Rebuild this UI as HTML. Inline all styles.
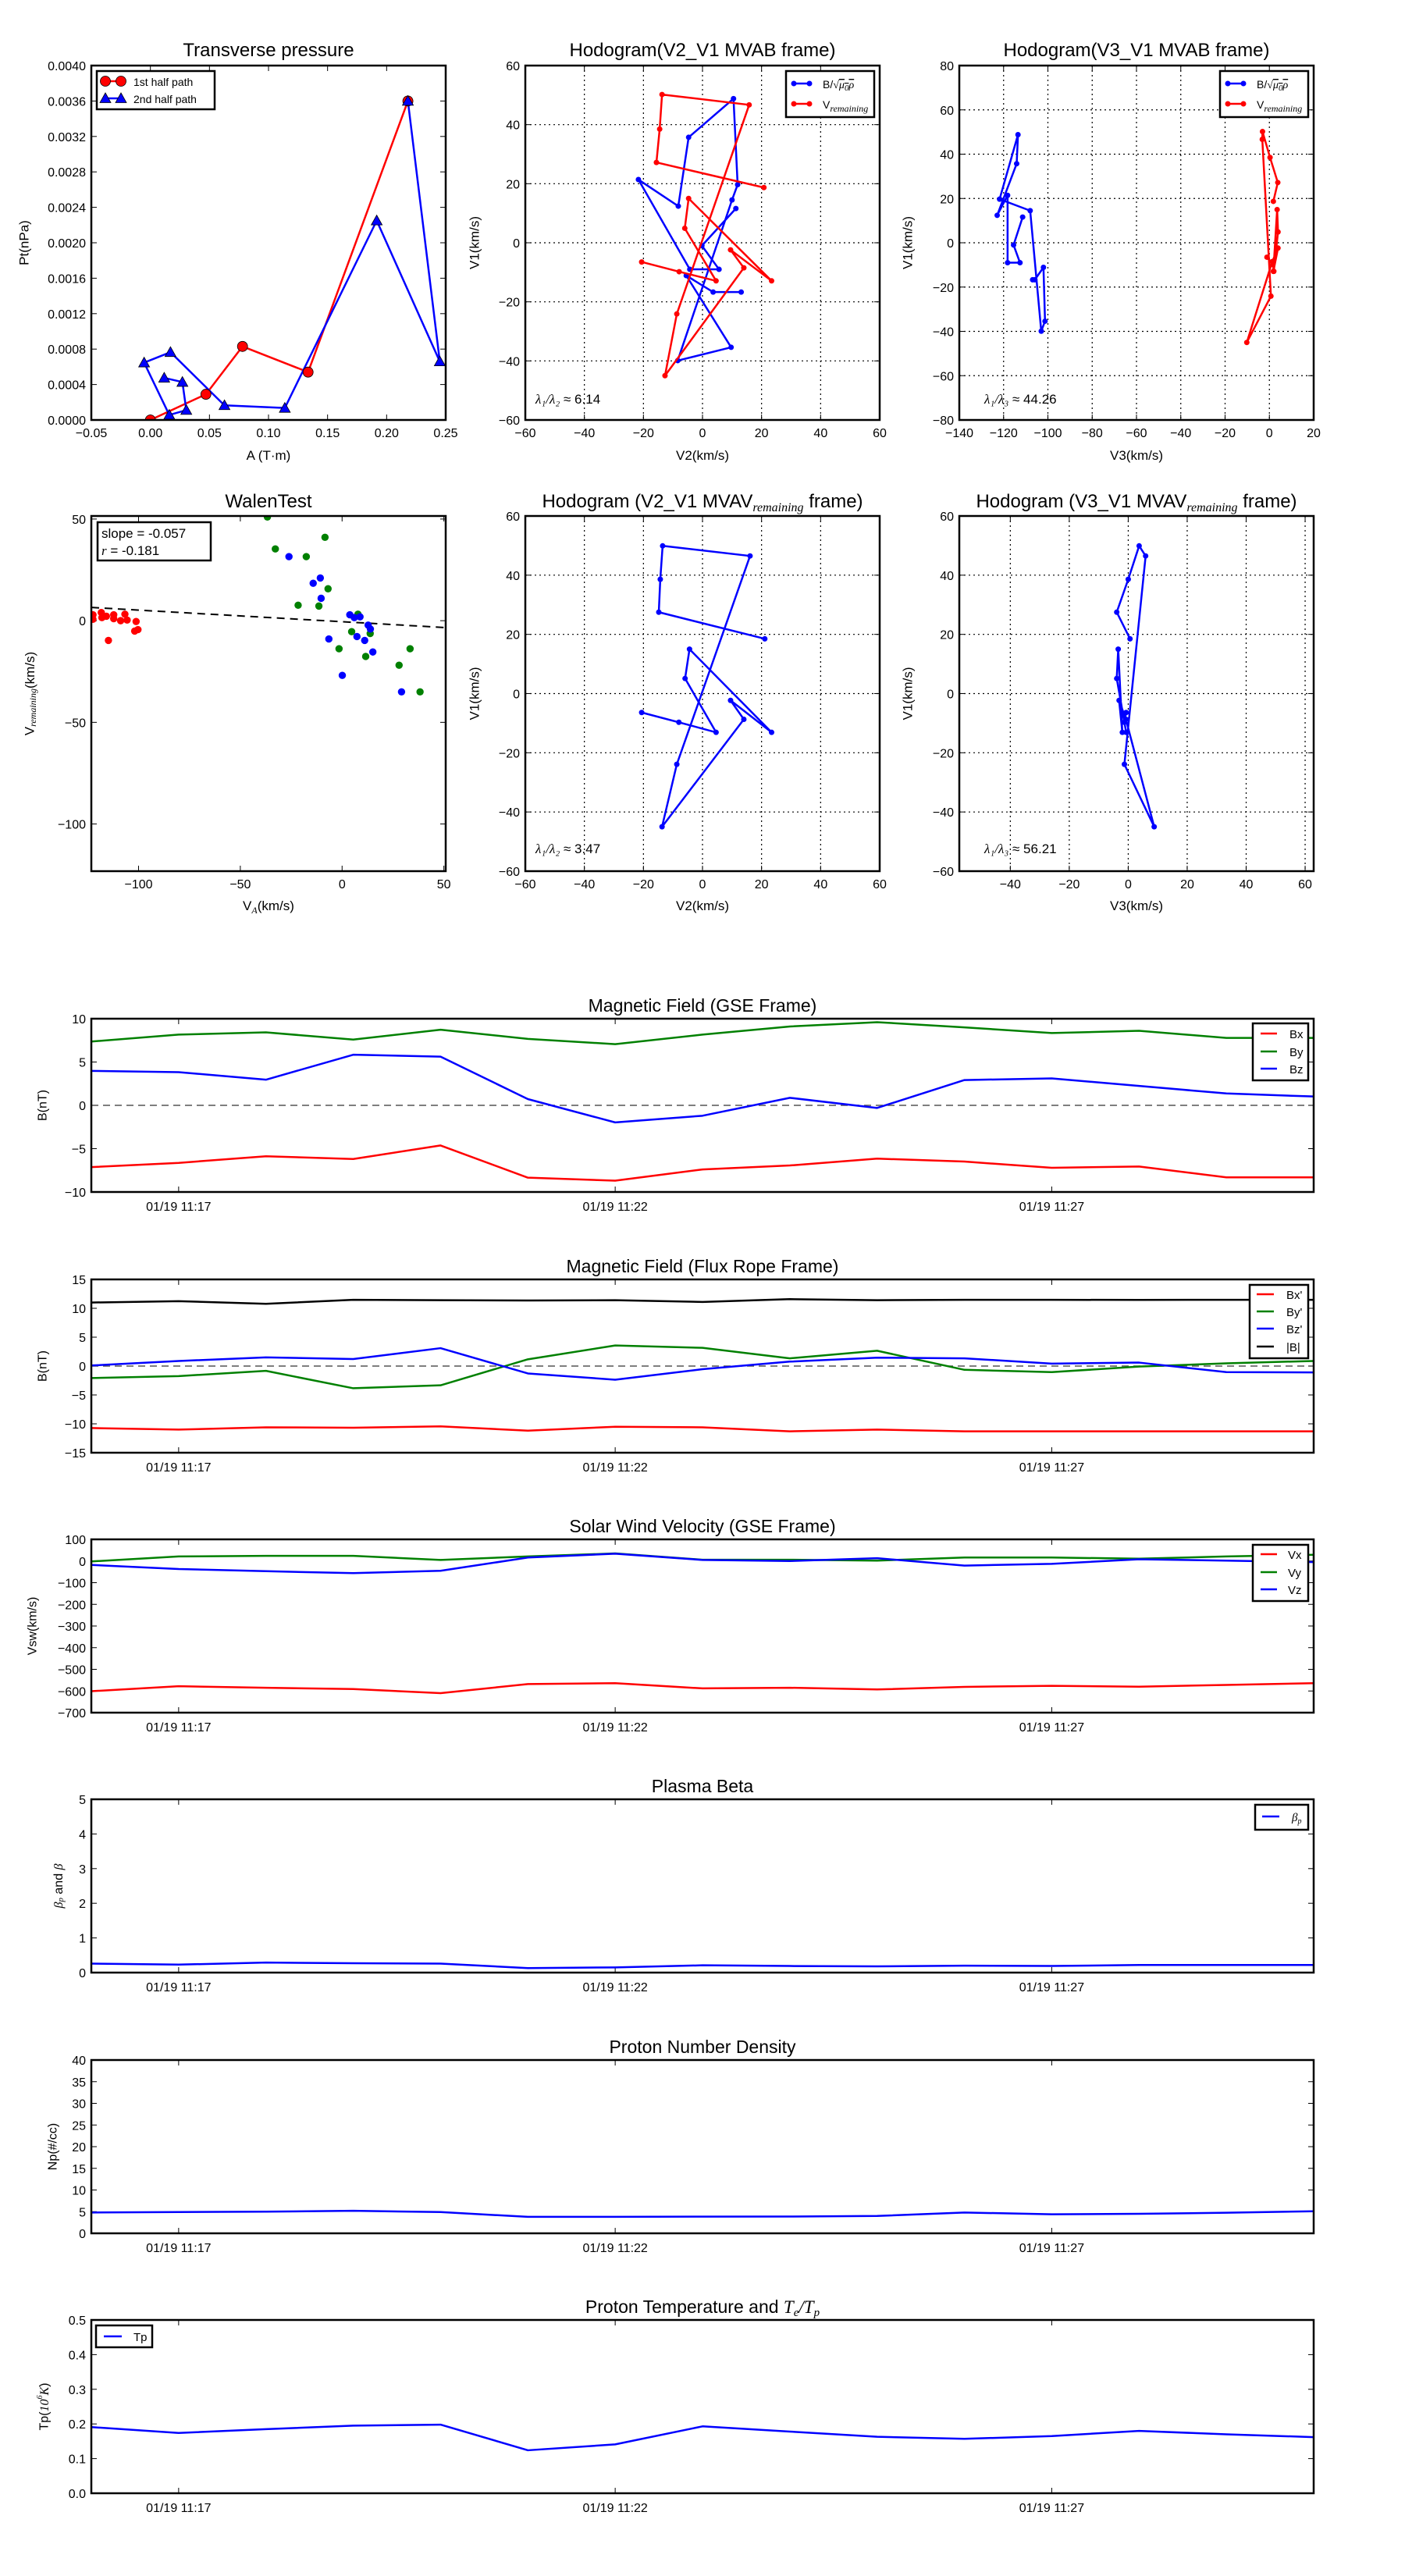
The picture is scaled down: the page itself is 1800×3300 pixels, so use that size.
<!DOCTYPE html>
<html><head><meta charset="utf-8"><style>
html,body{margin:0;padding:0;background:#fff;}
svg{display:block;font-family:"Liberation Sans","DejaVu Sans",sans-serif;}
</style></head><body>
<svg id="fig" width="1800" height="3300" viewBox="0 0 1800 3300" xmlns="http://www.w3.org/2000/svg"></svg>
<script>
// ---------- DATA ----------
const ptRedA = [0, 0.047, 0.078, 0.1335, 0.218];
const ptRedP = [0, 0.00029, 0.00083, 0.00054, 0.0036];
const ptBlueA = [0.218, 0.245, 0.1916, 0.1138, 0.0627, 0.017, -0.0053, 0.016, 0.0304, 0.0271, 0.0117];
const ptBlueP = [0.0036, 0.00066, 0.00225, 0.000135, 0.000165, 0.000765, 0.000647, 0.000057, 0.000111, 0.000428, 0.000475];

const hbV2 = [13.1, 3.6, -5.5, 9.7, -8.4, 10, 11.9, 10.5, -4.7, -8.2, -21.7, -4.3, 5.6, -0.2, 11.3];
const hbV1 = [-16.7, -16.7, -11.1, -35.4, -39.9, 14.5, 19.7, 48.8, 35.7, 12.4, 21.4, -9, -9, -1, 11.6];
const hbV3 = [-106.9, -105.9, -102, -101.3, -103, -108, -121.8, -113.5, -114.1, -122.9, -118.2, -118.2, -112.6, -115.5, -111.4];
const hvV2 = [20.8, -15.6, -14.5, -13.7, 15.8, -8.7, -12.7, 14, 9.5, 23.4, -4.7, -6, 4.6, -7.9, -20.6];
const hvV1 = [18.7, 27.2, 38.5, 50.2, 46.7, -24.1, -45, -8.5, -2.4, -12.9, 15, 4.9, -12.9, -9.8, -6.5];
const hvV3 = [1.8, 3.8, 0.3, -3.1, -3.2, 0.7, -10.2, 1.3, 3.9, 1.8, 3.5, 3.9, 2, 1.5, -1.1];
const mvV2 = [21.1, -14.8, -14.3, -13.5, 16.1, -8.7, -13.7, 14, 9.5, 23.4, -4.4, -5.9, 4.6, -8, -20.6];
const mvV1 = [18.5, 27.5, 38.6, 49.9, 46.5, -23.9, -45, -8.7, -2.3, -13.1, 15, 5.1, -13.1, -9.7, -6.4];
const mvV3 = [0.6, -3.9, 0, 3.7, 5.9, -1.3, 8.8, -0.8, -3.1, -2, -3.4, -3.9, -0.7, -1.3, -0.7];

const walRedX = [-122.4, -122.4, -118.3, -118, -115.8, -112.2, -112.2, -108.8, -106.7, -105.6, -101.2, -101.9, -100.3, -114.8];
const walRedY = [2.9, 0.7, 4, 1.5, 2.2, 2.9, 1, 0, 3.2, 0.3, -0.4, -5.1, -4.4, -9.7];
const walBlueX = [-26.1, -14.2, -10.7, -10.3, -6.5, 0.1, 3.8, 6, 8.8, 7.3, 11.1, 12.8, 13.9, 15.1, 29.2];
const walBlueY = [31.5, 18.4, 21, 11, -9, -26.9, 2.9, 1.5, 1.9, -7.8, -9.7, -2.2, -4.1, -15.4, -35];
const walGreenX = [-36.7, -32.8, -17.6, -8.4, -6.9, -21.6, -11.4, 7.8, 4.7, 13.8, -1.5, 11.6, 28, 33.4, 38.3];
const walGreenY = [51, 35.3, 31.5, 41, 15.7, 7.6, 7.2, 3.2, -5.4, -6.3, -13.8, -17.6, -21.9, -13.8, -35];
const walSlope = -0.057;
const walIntercept = -0.5;

const tMin = [0, 1, 2, 3, 4, 5, 6, 7, 8, 9, 10, 11, 12, 13, 14];
const timeTickMin = [1, 6, 11];
const timeTickLabels = ['01/19 11:17', '01/19 11:22', '01/19 11:27'];
const bx = [-7.13, -6.64, -5.88, -6.19, -4.63, -8.35, -8.69, -7.4, -6.94, -6.15, -6.49, -7.21, -7.06, -8.31, -8.31];
const by = [7.36, 8.16, 8.42, 7.59, 8.73, 7.67, 7.06, 8.16, 9.1, 9.6, 9.0, 8.35, 8.6, 7.78, 7.78];
const bz = [3.98, 3.83, 2.96, 5.84, 5.62, 0.72, -1.97, -1.2, 0.87, -0.3, 2.92, 3.11, 2.24, 1.37, 1.02];
const bxp = [-10.73, -11.0, -10.6, -10.67, -10.44, -11.18, -10.5, -10.6, -11.3, -11.0, -11.3, -11.3, -11.3, -11.3, -11.3];
const byp = [-2.08, -1.74, -0.83, -3.84, -3.33, 1.17, 3.56, 3.16, 1.34, 2.65, -0.65, -1.05, -0.09, 0.48, 0.88];
const bzp = [0.1, 0.88, 1.5, 1.22, 3.1, -1.28, -2.36, -0.54, 0.77, 1.45, 1.34, 0.43, 0.6, -1.05, -1.1];
const bmag = [11.0, 11.24, 10.78, 11.47, 11.4, 11.35, 11.4, 11.1, 11.58, 11.4, 11.47, 11.47, 11.45, 11.47, 11.47];
const vx = [-601, -578, -585, -591, -610, -568, -564, -588, -585, -593, -581, -576, -580, -572, -564];
const vy = [-2, 21, 24, 24, 5, 21, 35, 6, 6, 2, 16, 16, 11, 21, 29];
const vz = [-18, -37, -47, -56, -45, 16, 34, 5, 0, 13, -21, -13, 8, 2, -5];
const betaP = [0.26, 0.23, 0.29, 0.27, 0.26, 0.13, 0.15, 0.21, 0.19, 0.18, 0.2, 0.19, 0.22, 0.22, 0.22];
const np = [4.8, 4.9, 5.0, 5.2, 4.9, 3.8, 3.8, 3.85, 3.87, 4.0, 4.8, 4.4, 4.5, 4.75, 5.1];
const tp = [0.191, 0.174, 0.185, 0.195, 0.198, 0.124, 0.141, 0.193, 0.178, 0.163, 0.157, 0.165, 0.18, 0.17, 0.162];

// ---------- HELPERS ----------
const NS = 'http://www.w3.org/2000/svg';
const svg = document.getElementById('fig');
function mk(tag, attrs, name, parent) {
  const e = document.createElementNS(NS, tag);
  for (const k in attrs) e.setAttribute(k, attrs[k]);
  
  
  (parent || svg).appendChild(e);
  return e;
}
function txt(x, y, s, size, name, extra, parent) {
  const a = Object.assign({x: x, y: y, 'font-size': size, fill: '#000'}, extra || {});
  const t = mk('text', a, name, parent);
  t.textContent = s;
  return t;
}
function fmt(v, d) { const s = v.toFixed(d); return s.replace('-', '\u2212'); }

function panel(c) {
  const g = mk('g', {}, c.name);
  const sx = v => c.x0 + (v - c.xmin) / (c.xmax - c.xmin) * (c.x1 - c.x0);
  const sy = v => c.y1 - (v - c.ymin) / (c.ymax - c.ymin) * (c.y1 - c.y0);
  const tl = c.tickLen || 7;
  if (c.grid) {
    c.xticks.forEach(v => { const X = sx(v); if (X > c.x0 + 1 && X < c.x1 - 1) mk('line', {x1: X, x2: X, y1: c.y0, y2: c.y1, stroke: '#000', 'stroke-width': 1.2, 'stroke-dasharray': '2,4'}, 'x-gridline', g); });
    c.yticks.forEach(v => { const Y = sy(v); if (Y > c.y0 + 1 && Y < c.y1 - 1) mk('line', {x1: c.x0, x2: c.x1, y1: Y, y2: Y, stroke: '#000', 'stroke-width': 1.2, 'stroke-dasharray': '2,4'}, 'y-gridline', g); });
  }
  c.xticks.forEach((v, i) => {
    const X = sx(v);
    mk('line', {x1: X, x2: X, y1: c.y1, y2: c.y1 - tl, stroke: '#000', 'stroke-width': 1}, 'x-tick', g);
    mk('line', {x1: X, x2: X, y1: c.y0, y2: c.y0 + tl, stroke: '#000', 'stroke-width': 1}, 'x-tick', g);
    txt(X, c.y1 + (c.xlabOff || 22), c.xlabels[i], c.tickSize || 16, 'x-tick-label', {'text-anchor': 'middle'}, g);
  });
  c.yticks.forEach((v, i) => {
    const Y = sy(v);
    mk('line', {x1: c.x0, x2: c.x0 + tl, y1: Y, y2: Y, stroke: '#000', 'stroke-width': 1}, 'y-tick', g);
    mk('line', {x1: c.x1, x2: c.x1 - tl, y1: Y, y2: Y, stroke: '#000', 'stroke-width': 1}, 'y-tick', g);
    txt(c.x0 - 7, Y + 6, c.ylabels[i], c.tickSize || 16, 'y-tick-label', {'text-anchor': 'end'}, g);
  });
  const clipId = 'clip' + c.name;
  const cp = mk('clipPath', {id: clipId}, 'clip-region', g);
  mk('rect', {x: c.x0, y: c.y0, width: c.x1 - c.x0, height: c.y1 - c.y0}, 'clip-rect', cp);
  const plot = mk('g', {'clip-path': 'url(#' + clipId + ')'}, 'plot-area', g);
  mk('rect', {x: c.x0, y: c.y0, width: c.x1 - c.x0, height: c.y1 - c.y0, fill: 'none', stroke: '#000', 'stroke-width': 2.5}, 'axes-frame', g);
  const tt = txt((c.x0 + c.x1) / 2, c.titleY, '', c.titleSize || 24, 'chart-title', {'text-anchor': 'middle'}, g);
  tt.innerHTML = c.title;
  if (c.xlabel) { const t = txt((c.x0 + c.x1) / 2, c.xlabelY, '', 17, 'x-axis-title', {'text-anchor': 'middle'}, g); t.innerHTML = c.xlabel; }
  if (c.ylabel) { const cy = (c.y0 + c.y1) / 2; const t = txt(c.ylabelX, cy, '', c.ylabelSize || 17, 'y-axis-title', {'text-anchor': 'middle', 'dominant-baseline': 'central', transform: 'rotate(-90 ' + c.ylabelX + ' ' + cy + ')'}, g); t.innerHTML = c.ylabel; }
  return {sx: sx, sy: sy, g: plot, root: g};
}
function series(p, xs, ys, color, name, width) {
  const pts = xs.map((x, i) => p.sx(x).toFixed(2) + ',' + p.sy(ys[i]).toFixed(2)).join(' ');
  return mk('polyline', {points: pts, fill: 'none', stroke: color, 'stroke-width': width || 2.5, 'stroke-linejoin': 'round'}, name, p.g);
}
function dots(p, xs, ys, color, r, name) {
  xs.forEach((x, i) => { mk('circle', {cx: p.sx(x), cy: p.sy(ys[i]), r: r, fill: color, stroke: 'none'}, name, p.g); });
}
function tris(p, xs, ys, name) {
  xs.forEach((x, i) => { const X = p.sx(x), Y = p.sy(ys[i]); mk('polygon', {points: (X) + ',' + (Y - 7) + ' ' + (X - 7) + ',' + (Y + 5.5) + ' ' + (X + 7) + ',' + (Y + 5.5), fill: '#0000ff', stroke: '#000', 'stroke-width': 0.8}, name, p.g); });
}
function legendBox(x, y, w, h, name) {
  const g = mk('g', {}, name);
  mk('rect', {x: x, y: y, width: w, height: h, fill: '#fff', stroke: '#000', 'stroke-width': 2.5}, 'legend-frame', g);
  return g;
}
function legEntry(g, x1, x2, y, color, label, lx, size, name, marker) {
  mk('line', {x1: x1, x2: x2, y1: y, y2: y, stroke: color, 'stroke-width': 2.5}, name + '-swatch', g);
  if (marker === 'dot') { mk('circle', {cx: x1, cy: y, r: 3.5, fill: color}, name + '-marker', g); mk('circle', {cx: x2, cy: y, r: 3.5, fill: color}, name + '-marker', g); }
  if (marker === 'bigdot') { [x1, x2].forEach(X => mk('circle', {cx: X, cy: y, r: 6.5, fill: color, stroke: '#000', 'stroke-width': 0.8}, name + '-marker', g)); }
  if (marker === 'tri') { [x1, x2].forEach(X => mk('polygon', {points: X + ',' + (y - 7) + ' ' + (X - 7) + ',' + (y + 5.5) + ' ' + (X + 7) + ',' + (y + 5.5), fill: color, stroke: '#000', 'stroke-width': 0.8}, name + '-marker', g)); }
  const t = txt(lx, y + 6, '', size, name + '-label', {}, g);
  t.innerHTML = label;
}
const numT = (arr, d) => arr.map(v => fmt(v, d));
const MI = 'font-family="Liberation Serif,serif" font-style="italic"';
const sqrtLbl = 'B/<tspan ' + MI + '>\u221A</tspan><tspan ' + MI + ' text-decoration="overline">\u03BC<tspan font-size="11" dy="3">0</tspan><tspan dy="-3">\u03C1</tspan></tspan>';
const vremLbl = 'V<tspan ' + MI + ' font-size="12" dy="4">remaining</tspan>';

// ---------- TOP ROW ----------
const p1 = panel({name: 'transverse-pressure', x0: 117, x1: 571, y0: 84, y1: 538, xmin: -0.05, xmax: 0.25, ymin: 0, ymax: 0.004,
  xticks: [-0.05, 0, 0.05, 0.1, 0.15, 0.2, 0.25], xlabels: numT([-0.05, 0, 0.05, 0.1, 0.15, 0.2, 0.25], 2),
  yticks: [0, 0.0004, 0.0008, 0.0012, 0.0016, 0.002, 0.0024, 0.0028, 0.0032, 0.0036, 0.004], ylabels: numT([0, 0.0004, 0.0008, 0.0012, 0.0016, 0.002, 0.0024, 0.0028, 0.0032, 0.0036, 0.004], 4),
  title: 'Transverse pressure', titleY: 72, xlabel: 'A (T\u00B7m)', xlabelY: 589, ylabel: 'Pt(nPa)', ylabelX: 31});
series(p1, ptRedA, ptRedP, '#ff0000', 'first-half-path-line');
series(p1, ptBlueA, ptBlueP, '#0000ff', 'second-half-path-line');
ptRedA.forEach((x, i) => { mk('circle', {cx: p1.sx(x), cy: p1.sy(ptRedP[i]), r: 6.5, fill: '#ff0000', stroke: '#000', 'stroke-width': 0.8}, 'first-half-point', p1.g); });
tris(p1, ptBlueA, ptBlueP, 'second-half-point');
{ const g = legendBox(124, 91, 151, 49, 'legend');
  legEntry(g, 135, 155, 104, '#ff0000', '1st half path', 171, 14, 'legend-entry-first-half', 'bigdot');
  legEntry(g, 135, 155, 126, '#0000ff', '2nd half path', 171, 14, 'legend-entry-second-half', 'tri'); }

const hodoTicks = [-60, -40, -20, 0, 20, 40, 60];
const p2 = panel({name: 'hodogram-v2-v1-mvab', x0: 673, x1: 1127, y0: 84, y1: 538, xmin: -60, xmax: 60, ymin: -60, ymax: 60, grid: true,
  xticks: hodoTicks, xlabels: numT(hodoTicks, 0), yticks: hodoTicks, ylabels: numT(hodoTicks, 0),
  title: 'Hodogram(V2_V1 MVAB frame)', titleY: 72, xlabel: 'V2(km/s)', xlabelY: 589, ylabel: 'V1(km/s)', ylabelX: 608});
series(p2, hbV2, hbV1, '#0000ff', 'b-alfven-line'); dots(p2, hbV2, hbV1, '#0000ff', 3.5, 'b-alfven-point');
series(p2, hvV2, hvV1, '#ff0000', 'v-remaining-line'); dots(p2, hvV2, hvV1, '#ff0000', 3.5, 'v-remaining-point');
{ const t = txt(686, 517, '', 17, 'eigenvalue-ratio'); t.innerHTML = '<tspan ' + MI + '>\u03BB\u2081/\u03BB\u2082</tspan> \u2248 6.14';
  const g = legendBox(1007, 91, 113, 59, 'legend');
  legEntry(g, 1017, 1037, 107, '#0000ff', sqrtLbl, 1054, 14, 'legend-entry-b', 'dot');
  legEntry(g, 1017, 1037, 133, '#ff0000', vremLbl, 1054, 14, 'legend-entry-v', 'dot'); }

const h3x = [-140, -120, -100, -80, -60, -40, -20, 0, 20];
const h3y = [-80, -60, -40, -20, 0, 20, 40, 60, 80];
const p3 = panel({name: 'hodogram-v3-v1-mvab', x0: 1229, x1: 1683, y0: 84, y1: 538, xmin: -140, xmax: 20, ymin: -80, ymax: 80, grid: true,
  xticks: h3x, xlabels: numT(h3x, 0), yticks: h3y, ylabels: numT(h3y, 0),
  title: 'Hodogram(V3_V1 MVAB frame)', titleY: 72, xlabel: 'V3(km/s)', xlabelY: 589, ylabel: 'V1(km/s)', ylabelX: 1163});
series(p3, hbV3, hbV1, '#0000ff', 'b-alfven-line'); dots(p3, hbV3, hbV1, '#0000ff', 3.5, 'b-alfven-point');
series(p3, hvV3, hvV1, '#ff0000', 'v-remaining-line'); dots(p3, hvV3, hvV1, '#ff0000', 3.5, 'v-remaining-point');
{ const t = txt(1261, 517, '', 17, 'eigenvalue-ratio'); t.innerHTML = '<tspan ' + MI + '>\u03BB\u2081/\u03BB\u2083</tspan> \u2248 44.26';
  const g = legendBox(1563, 91, 113, 59, 'legend');
  legEntry(g, 1573, 1593, 107, '#0000ff', sqrtLbl, 1610, 14, 'legend-entry-b', 'dot');
  legEntry(g, 1573, 1593, 133, '#ff0000', vremLbl, 1610, 14, 'legend-entry-v', 'dot'); }

// ---------- SECOND ROW ----------
const p4 = panel({name: 'walen-test', x0: 117, x1: 571, y0: 661, y1: 1116, xmin: -123.2, xmax: 50.9, ymin: -123.2, ymax: 51.5,
  xticks: [-100, -50, 0, 50], xlabels: numT([-100, -50, 0, 50], 0), yticks: [-100, -50, 0, 50], ylabels: numT([-100, -50, 0, 50], 0),
  title: 'WalenTest', titleY: 650, xlabel: 'V<tspan ' + MI + ' font-size="12" dy="4">A</tspan><tspan dy="-4">(km/s)</tspan>', xlabelY: 1166,
  ylabel: vremLbl + '<tspan dy="-4">(km/s)</tspan>', ylabelX: 38});
mk('line', {x1: p4.sx(-123.2), y1: p4.sy(walSlope * -123.2 + walIntercept), x2: p4.sx(50.9), y2: p4.sy(walSlope * 50.9 + walIntercept), stroke: '#000', 'stroke-width': 2, 'stroke-dasharray': '10,7'}, 'fit-line', p4.g);
dots(p4, walRedX, walRedY, '#ff0000', 4.7, 'walen-point-red');
dots(p4, walGreenX, walGreenY, '#008000', 4.7, 'walen-point-green');
dots(p4, walBlueX, walBlueY, '#0000ff', 4.7, 'walen-point-blue');
{ const g = legendBox(125, 669, 145, 49, 'fit-stats-box');
  txt(130, 689, 'slope = -0.057', 17, 'slope-text', {}, g);
  const t = txt(130, 711, '', 17, 'r-text', {}, g); t.innerHTML = '<tspan ' + MI + '>r</tspan> = -0.181'; }

const p5 = panel({name: 'hodogram-v2-v1-mvav', x0: 673, x1: 1127, y0: 661, y1: 1116, xmin: -60, xmax: 60, ymin: -60, ymax: 60, grid: true,
  xticks: hodoTicks, xlabels: numT(hodoTicks, 0), yticks: hodoTicks, ylabels: numT(hodoTicks, 0),
  title: 'Hodogram (V2_V1 MVAV<tspan ' + MI + ' font-size="16" dy="5">remaining</tspan><tspan dy="-5"> frame)</tspan>', titleY: 650, xlabel: 'V2(km/s)', xlabelY: 1166, ylabel: 'V1(km/s)', ylabelX: 608});
series(p5, mvV2, mvV1, '#0000ff', 'v-remaining-line'); dots(p5, mvV2, mvV1, '#0000ff', 3.5, 'v-remaining-point');
{ const t = txt(686, 1093, '', 17, 'eigenvalue-ratio'); t.innerHTML = '<tspan ' + MI + '>\u03BB\u2081/\u03BB\u2082</tspan> \u2248 3.47'; }

const h6x = [-40, -20, 0, 20, 40, 60];
const p6 = panel({name: 'hodogram-v3-v1-mvav', x0: 1229, x1: 1683, y0: 661, y1: 1116, xmin: -57.3, xmax: 62.9, ymin: -60, ymax: 60, grid: true,
  xticks: h6x, xlabels: numT(h6x, 0), yticks: hodoTicks, ylabels: numT(hodoTicks, 0),
  title: 'Hodogram (V3_V1 MVAV<tspan ' + MI + ' font-size="16" dy="5">remaining</tspan><tspan dy="-5"> frame)</tspan>', titleY: 650, xlabel: 'V3(km/s)', xlabelY: 1166, ylabel: 'V1(km/s)', ylabelX: 1163});
series(p6, mvV3, mvV1, '#0000ff', 'v-remaining-line'); dots(p6, mvV3, mvV1, '#0000ff', 3.5, 'v-remaining-point');
{ const t = txt(1261, 1093, '', 17, 'eigenvalue-ratio'); t.innerHTML = '<tspan ' + MI + '>\u03BB\u2081/\u03BB\u2083</tspan> \u2248 56.21'; }

// ---------- TIME SERIES ----------
function tpanel(name, top, ymin, ymax, yt, dec, title, ylabel, ylx) {
  return panel({name: name, x0: 117, x1: 1683, y0: top, y1: top + 222, xmin: 0, xmax: 14, ymin: ymin, ymax: ymax,
    xticks: timeTickMin, xlabels: timeTickLabels, yticks: yt, ylabels: numT(yt, dec), tickSize: 16, xlabOff: 24,
    title: title, titleY: top - 9, titleSize: 23, ylabel: ylabel, ylabelX: ylx, ylabelSize: 16});
}
function zeroLine(p) { mk('line', {x1: p.sx(0), x2: p.sx(14), y1: p.sy(0), y2: p.sy(0), stroke: '#555', 'stroke-width': 1.5, 'stroke-dasharray': '9,6'}, 'zero-line', p.g); }

const q1 = tpanel('magnetic-field-gse', 1305, -10, 10, [-10, -5, 0, 5, 10], 0, 'Magnetic Field (GSE Frame)', 'B(nT)', 55);
zeroLine(q1);
series(q1, tMin, by, '#008000', 'by-line'); series(q1, tMin, bz, '#0000ff', 'bz-line'); series(q1, tMin, bx, '#ff0000', 'bx-line');
{ const g = legendBox(1605, 1311, 71, 73, 'legend');
  legEntry(g, 1615, 1636, 1324, '#ff0000', 'Bx', 1652, 15, 'legend-entry-bx');
  legEntry(g, 1615, 1636, 1347, '#008000', 'By', 1652, 15, 'legend-entry-by');
  legEntry(g, 1615, 1636, 1369, '#0000ff', 'Bz', 1652, 15, 'legend-entry-bz'); }

const q2 = tpanel('magnetic-field-flux-rope', 1639, -15, 15, [-15, -10, -5, 0, 5, 10, 15], 0, 'Magnetic Field (Flux Rope Frame)', 'B(nT)', 55);
zeroLine(q2);
series(q2, tMin, bmag, '#000000', 'bmag-line'); series(q2, tMin, byp, '#008000', 'byp-line'); series(q2, tMin, bzp, '#0000ff', 'bzp-line'); series(q2, tMin, bxp, '#ff0000', 'bxp-line');
{ const g = legendBox(1601, 1646, 75, 94, 'legend');
  legEntry(g, 1610, 1632, 1658, '#ff0000', "Bx'", 1648, 15, 'legend-entry-bxp');
  legEntry(g, 1610, 1632, 1680, '#008000', "By'", 1648, 15, 'legend-entry-byp');
  legEntry(g, 1610, 1632, 1702, '#0000ff', "Bz'", 1648, 15, 'legend-entry-bzp');
  legEntry(g, 1610, 1632, 1725, '#000000', '|B|', 1648, 15, 'legend-entry-bmag'); }

const vt = [-700, -600, -500, -400, -300, -200, -100, 0, 100];
const q3 = tpanel('solar-wind-velocity', 1972, -700, 100, vt, 0, 'Solar Wind Velocity (GSE Frame)', 'Vsw(km/s)', 42);
series(q3, tMin, vy, '#008000', 'vy-line'); series(q3, tMin, vz, '#0000ff', 'vz-line'); series(q3, tMin, vx, '#ff0000', 'vx-line');
{ const g = legendBox(1605, 1979, 71, 72, 'legend');
  legEntry(g, 1615, 1636, 1991, '#ff0000', 'Vx', 1650, 15, 'legend-entry-vx');
  legEntry(g, 1615, 1636, 2014, '#008000', 'Vy', 1650, 15, 'legend-entry-vy');
  legEntry(g, 1615, 1636, 2036, '#0000ff', 'Vz', 1650, 15, 'legend-entry-vz'); }

const q4 = tpanel('plasma-beta', 2305, 0, 5, [0, 1, 2, 3, 4, 5], 0, 'Plasma Beta', '<tspan ' + MI + '>\u03B2<tspan font-size="11" dy="3">p</tspan></tspan><tspan dy="-3"> and </tspan><tspan ' + MI + '>\u03B2</tspan>', 75);
series(q4, tMin, betaP, '#0000ff', 'beta-p-line');
{ const g = legendBox(1608, 2312, 68, 32, 'legend');
  legEntry(g, 1617, 1639, 2327, '#0000ff', '<tspan ' + MI + '>\u03B2<tspan font-size="10" dy="3">p</tspan></tspan>', 1655, 15, 'legend-entry-beta-p'); }

const q5 = tpanel('proton-number-density', 2639, 0, 40, [0, 5, 10, 15, 20, 25, 30, 35, 40], 0, 'Proton Number Density', 'Np(#/cc)', 68);
series(q5, tMin, np, '#0000ff', 'np-line');

const q6 = tpanel('proton-temperature', 2972, 0, 0.5, [0, 0.1, 0.2, 0.3, 0.4, 0.5], 1, 'Proton Temperature and <tspan ' + MI + '>T<tspan font-size="15" dy="4">e</tspan><tspan dy="-4">/T</tspan><tspan font-size="15" dy="4">p</tspan></tspan>', 'Tp(<tspan ' + MI + '>10<tspan font-size="10" dy="-6">6</tspan><tspan dy="6">K</tspan></tspan>)', 57);
series(q6, tMin, tp, '#0000ff', 'tp-line');
{ const g = legendBox(123, 2979, 72, 28, 'legend');
  legEntry(g, 133, 156, 2993, '#0000ff', 'Tp', 171, 15, 'legend-entry-tp'); }
</script>
</body></html>
